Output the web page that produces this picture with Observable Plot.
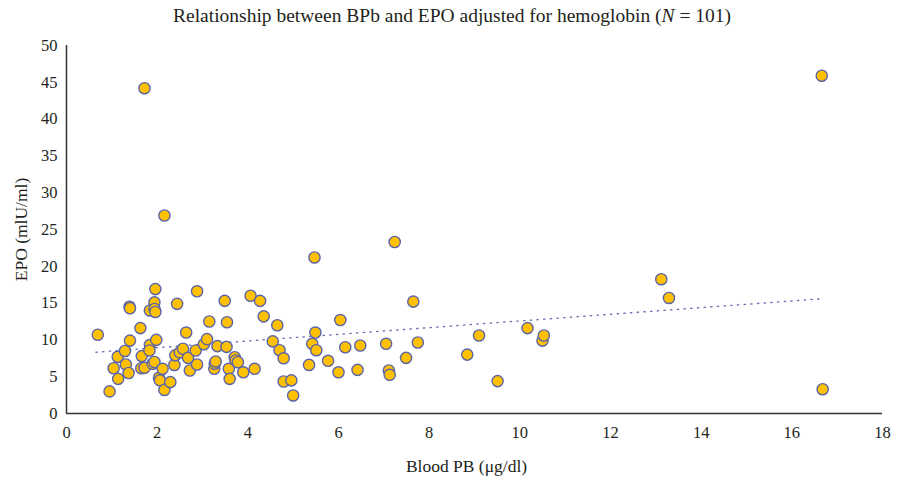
<!DOCTYPE html>
<html><head><meta charset="utf-8">
<script src="https://cdn.jsdelivr.net/npm/d3@7"></script>
<script src="https://cdn.jsdelivr.net/npm/@observablehq/plot@0.6"></script>
<style>
body{margin:0;background:#fff;font-family:"Liberation Serif",serif;}
#title{height:30px;line-height:32px;text-align:center;font-size:19.5px;color:#231f20;padding-left:7px;}
</style></head><body>
<div id="title">Relationship between BPb and EPO adjusted for hemoglobin (<i>N</i> = 101)</div>
<div id="chart"></div>
<script>
const bloodPb = [0.69,0.95,1.04,1.13,1.14,1.29,1.31,1.37,1.39,1.40,1.40,1.63,1.65,1.66,1.72,1.72,1.84,1.84,1.83,1.90,1.94,1.94,1.94,1.96,1.96,1.98,2.04,2.06,2.12,2.16,2.16,2.29,2.38,2.40,2.44,2.50,2.57,2.64,2.68,2.72,2.85,2.88,2.88,3.03,3.10,3.15,3.26,3.27,3.29,3.33,3.49,3.53,3.54,3.58,3.60,3.71,3.73,3.78,3.90,4.06,4.15,4.27,4.35,4.55,4.65,4.70,4.79,4.79,4.96,5.00,5.35,5.42,5.47,5.49,5.51,5.77,6.00,6.04,6.15,6.42,6.48,7.05,7.11,7.13,7.24,7.49,7.65,7.75,8.84,9.10,9.51,10.17,10.50,10.53,13.12,13.29,16.66,16.68];
const epo = [10.7,3.0,6.15,7.7,4.7,8.5,6.66,5.5,14.5,14.3,9.9,11.6,6.15,7.8,6.2,44.2,14.0,9.3,8.56,6.75,7.0,15.1,14.2,13.8,16.9,10.0,4.85,4.5,6.07,3.2,26.9,4.26,6.6,7.9,14.9,8.3,8.8,11.0,7.56,5.84,8.56,6.66,16.6,9.4,10.1,12.5,6.07,6.75,7.07,9.15,15.3,9.05,12.4,6.07,4.7,7.65,7.2,6.97,5.6,16.0,6.07,15.3,13.2,9.8,12.0,8.6,7.5,4.35,4.5,2.45,6.6,9.47,21.2,11.0,8.6,7.16,5.6,12.7,9.0,5.93,9.24,9.47,5.84,5.26,23.3,7.56,15.2,9.65,8.0,10.6,4.4,11.6,9.9,10.6,18.25,15.7,45.9,3.3];
const trendX = [0.65, 16.67];
const trendY = [8.33, 15.6];
const xTicks = [0,2,4,6,8,10,12,14,16,18];
const yTicks = [0,5,10,15,20,25,30,35,40,45,50];

const points = bloodPb.map((x, i) => ({x, y: epo[i]}));
const trend = trendX.map((x, i) => ({x, y: trendY[i]}));

const chart = Plot.plot({
  width: 897,
  height: 461,
  marginTop: 15,
  marginLeft: 66,
  marginRight: 15,
  marginBottom: 78,
  style: {fontFamily: "'Liberation Serif', serif", fontSize: "16.5px", color: "#231f20", background: "#fff"},
  x: {domain: [0, 18], ticks: xTicks, tickSize: 0, tickPadding: 13, label: "Blood PB (μg/dl)", labelAnchor: "center", labelArrow: "none", labelOffset: 58},
  y: {domain: [0, 50], ticks: yTicks, tickSize: 0, tickPadding: 9, label: "EPO (mlU/ml)", labelAnchor: "center", labelArrow: "none", labelOffset: 52},
  marks: [
    Plot.ruleY([0], {stroke: "#333", strokeWidth: 1.5}),
    Plot.ruleX([0], {stroke: "#333", strokeWidth: 1.5}),
    Plot.line(trend, {x: "x", y: "y", stroke: "#6d71b3", strokeWidth: 1.4, strokeDasharray: "1.3,5.4"}),
    Plot.dot(points, {x: "x", y: "y", r: 5.6, fill: "#FFC000", stroke: "#5A64A8", strokeWidth: 1.4})
  ]
});
chart.querySelectorAll("[aria-label='x-axis label'] text, [aria-label='y-axis label'] text").forEach(t => t.style.fontSize = "17.5px");
const xl = chart.querySelector("[aria-label='x-axis label']");
if (xl) xl.setAttribute("transform", (xl.getAttribute("transform") || "") + " translate(-8,0)");
document.getElementById("chart").appendChild(chart);
</script>
</body></html>
